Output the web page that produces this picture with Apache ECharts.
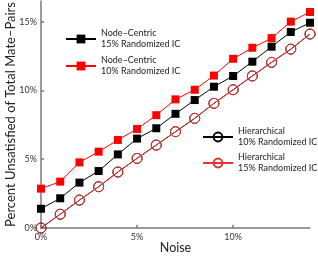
<!DOCTYPE html>
<html>
<head>
<meta charset="utf-8">
<script src="https://cdn.jsdelivr.net/npm/echarts@6/dist/echarts.min.js"></script>
<style>html,body{margin:0;padding:0;background:#fff}#c{width:318px;height:257px}</style>
</head>
<body>
<div id="c"></div>
<script>
var noise = [0,1,2,3,4,5,6,7,8,9,10,11,12,13,14];
var nodeCentric15 = [1.4,2.16,3.3,4.14,5.35,6.5,7.25,8.3,9.3,10.27,11.05,12.09,13.18,14.25,14.92];
var nodeCentric10 = [2.86,3.37,4.77,5.55,6.4,7.2,8.2,9.35,10.05,11.08,12.3,13.1,13.8,15.0,15.7];
var hier10 = [0,1.0,2.03,3.0,4.07,5.06,6.03,7.0,7.97,9.06,10.05,11.05,12.04,13.0,14.1];
var hier15 = [0,1.0,2.03,3.0,4.07,5.06,6.03,7.0,7.97,9.06,10.05,11.05,12.04,13.0,14.1];
var xTicks = [0,5,10];
var yTicks = [0,5,10,15];
var names = ['Node–Centric\n15% Randomized IC','Node–Centric\n10% Randomized IC','Hierarchical\n10% Randomized IC','Hierarchical\n15% Randomized IC'];

function pairs(ys){ return noise.map(function(x,i){ return [x, ys[i]]; }); }
var FONT = 'Lato';
var chart = echarts.init(document.getElementById('c'));
var axisLineStyle = {color:'#7a7a7a', width:1.5};
chart.setOption({
  animation:false,
  textStyle:{fontFamily:FONT},
  grid:{left:41, right:8, top:1, bottom:29, containLabel:false, outerBoundsMode:'none'},
  xAxis:{
    type:'value', min:0, max:14, interval:5,
    name:'Noise', nameLocation:'middle', nameGap:13, nameMoveOverlap:false,
    nameTextStyle:{fontFamily:FONT, fontSize:12.5, color:'#222'},
    axisLine:{show:true, lineStyle:axisLineStyle},
    axisTick:{show:true, inside:true, length:3, lineStyle:axisLineStyle, customValues:xTicks},
    axisLabel:{fontFamily:FONT, fontSize:9, color:'#333', margin:5, customValues:xTicks,
      formatter:function(v){ return xTicks.indexOf(v)>=0 ? v+'%' : ''; }},
    splitLine:{show:false}
  },
  yAxis:{
    type:'value', min:0, max:16.5, interval:5,
    name:'Percent Unsatisfied of Total Mate–Pairs', nameLocation:'middle', nameGap:24, nameRotate:90, nameMoveOverlap:false,
    nameTextStyle:{fontFamily:FONT, fontSize:13, color:'#222'},
    axisLine:{show:true, lineStyle:axisLineStyle},
    axisTick:{show:true, inside:true, length:3, lineStyle:axisLineStyle, customValues:yTicks},
    axisLabel:{fontFamily:FONT, fontSize:9, color:'#333', margin:4, customValues:yTicks,
      formatter:function(v){ return yTicks.indexOf(v)>=0 ? v+'%' : ''; }},
    splitLine:{show:false}
  },
  legend:[
    {data:[names[0], names[1]], orient:'vertical', left:65, top:28, padding:0, itemWidth:30, itemHeight:11, itemGap:5,
     textStyle:{fontFamily:FONT, fontSize:9, color:'#222', lineHeight:11}},
    {data:[names[2], names[3]], orient:'vertical', left:202, top:126, padding:0, width:116, itemWidth:30, itemHeight:11, itemGap:4,
     textStyle:{fontFamily:FONT, fontSize:9, color:'#222', lineHeight:11, overflow:'none'}}
  ],
  series:[
    {name:names[2], type:'line', data:pairs(hier10), symbol:'circle', symbolSize:10,
     lineStyle:{color:'#000', width:1}, itemStyle:{color:'rgba(255,255,255,0)', borderColor:'#000', borderWidth:1}, z:2},
    {name:names[3], type:'line', data:pairs(hier15), symbol:'circle', symbolSize:10,
     lineStyle:{color:'#e8322c', width:1}, itemStyle:{color:'rgba(255,255,255,0)', borderColor:'#e8322c', borderWidth:1}, z:3},
    {name:names[0], type:'line', data:pairs(nodeCentric15), symbol:'rect', symbolSize:8,
     lineStyle:{color:'#000', width:1}, itemStyle:{color:'#000'}, z:4},
    {name:names[1], type:'line', data:pairs(nodeCentric10), symbol:'rect', symbolSize:8,
     lineStyle:{color:'#ff0000', width:1}, itemStyle:{color:'#ff0000'}, z:5}
  ]
});
</script>
</body>
</html>
